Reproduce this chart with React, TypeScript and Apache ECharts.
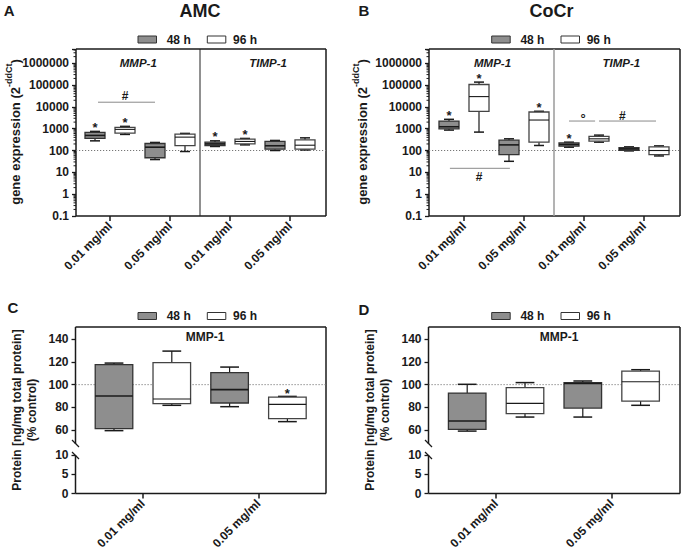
import React, { useEffect, useRef } from 'react';
import * as echarts from 'echarts';

const FONT = '"Liberation Sans", Arial, Helvetica, sans-serif';
const INK = '#1a1a1a';
const GRAY_FILL = '#8e8e8e';
const WHITE_FILL = '#ffffff';
const SIG_LINE = '#8a8a8a';

// ---------- categories / tick labels ----------
const geneCategories = ['0.01 mg/ml', '0.05 mg/ml', '0.01 mg/ml', '0.05 mg/ml'];
const proteinCategories = ['0.01 mg/ml', '0.05 mg/ml'];
const logTickLabels = ['0.1', '1', '10', '100', '1000', '10000', '100000', '1000000'];
const seriesNames = ['48 h', '96 h'];

// ---------- Panel A (AMC): box order = MMP-1 0.01 (48h,96h), MMP-1 0.05 (48h,96h), TIMP-1 0.01 (48h,96h), TIMP-1 0.05 (48h,96h)
const aMin = [277, 546, 38.5, 90, 153, 181, 100, 106];
const aQ1 = [357, 627, 46.6, 166, 170, 201, 115, 115];
const aMed = [490, 929, 142, 410, 201, 260, 165, 175];
const aQ3 = [676, 1148, 210, 564, 241, 332, 260, 308];
const aMax = [751, 1276, 234, 607, 277, 357, 289, 380];
const aStar = [1, 1, 0, 0, 1, 1, 0, 0];

// ---------- Panel B (CoCr)
const bMin = [862, 697, 32, 170, 142, 241, 96, 56.4];
const bQ1 = [989, 6270, 65.4, 241, 158, 268, 103, 65.4];
const bMed = [1224, 29500, 181, 2490, 189, 343, 118.6, 100];
const bQ3 = [2240, 105400, 298, 5820, 224, 442, 137, 147];
const bMax = [2683, 136000, 343, 6270, 241, 507, 147, 163];
const bStar = [1, 1, 0, 1, 1, 0, 0, 0];

// ---------- Panel C (AMC protein, MMP-1): 0.01 (48h,96h), 0.05 (48h,96h)
const cMin = [59.7, 81.9, 80.7, 67.6];
const cQ1 = [61.4, 83.3, 83.9, 70.2];
const cMed = [90, 87.4, 95.6, 82.7];
const cQ3 = [117.5, 119.3, 110.5, 89.1];
const cMax = [118.9, 129.4, 115.4, 89.7];
const cStar = [0, 0, 0, 1];

// ---------- Panel D (CoCr protein, MMP-1)
const dMin = [59.3, 71.6, 71.6, 81.9];
const dQ1 = [60.8, 74.6, 79.5, 85.6];
const dMed = [68.1, 83.6, 101, 102.6];
const dQ3 = [92.6, 97.4, 101.8, 111.9];
const dMax = [100.3, 101.8, 103.2, 113.1];
const dStar = [0, 0, 0, 0];

// ---------- significance bars (positions in box-index units, level in data units)
const aSigFrom = [0.1];
const aSigTo = [2.0];
const aSigLevel = [16300];
const aSigMark = ['#'];
const aSigMarkAt = [1.0];

const bSigFrom = [0.03, 4.0, 5.0];
const bSigTo = [2.03, 4.87, 6.9];
const bSigLevel = [15.3, 2240, 2240];
const bSigMark = ['#', '°', '#'];
const bSigMarkAt = [1.0, 4.47, 5.78];

const REFERENCE_LEVEL_GENE = 100;
const REFERENCE_LEVEL_PROTEIN = 100;

// ---------- layout (pixels) ----------
const LOG_MIN = -1;
const LOG_MAX = 6.65;
const LA = { l: 76, r: 326, t: 49, b: 216, gl: 80, gw: 240 };
const LB = { l: 429, r: 680, t: 49, b: 216, gl: 434, gw: 240 };
const LC = { l: 75.5, r: 326, t: 327, b: 493.5, gl: 85.1, gw: 231.2, gt: 339, gh: 91.3, lt: 455, lh: 38.5, breakTop: 444 };
const LD = { l: 428.5, r: 680, t: 327, b: 493.5, gl: 438.3, gw: 231.2, gt: 339, gh: 91.3, lt: 455, lh: 38.5, breakTop: 444 };

const lg10 = (v: number) => Math.log10(v);
const ident = (v: number) => v;

function rowsFor(min: number[], q1: number[], med: number[], q3: number[], max: number[], star: number[], parity: number, t: (v: number) => number) {
  return min
    .map((_, i) => [i, t(min[i]), t(q1[i]), t(med[i]), t(q3[i]), t(max[i]), star[i]])
    .filter((r) => r[0] % 2 === parity);
}

function makeRender(fill: string, ratio: number, starGap: number) {
  return (params: any, api: any) => {
    const i = api.value(0);
    const lo = api.coord([i, api.value(1)]);
    const q1 = api.coord([i, api.value(2)]);
    const md = api.coord([i, api.value(3)]);
    const q3 = api.coord([i, api.value(4)]);
    const hi = api.coord([i, api.value(5)]);
    const star = api.value(6);
    const band = api.size([1, 0])[0];
    const w = band * ratio;
    const cx = lo[0];
    const cap = w * 0.25;
    const ln = (x1: number, y1: number, x2: number, y2: number, lw = 1.2) => ({
      type: 'line',
      shape: { x1, y1, x2, y2 },
      style: { stroke: INK, lineWidth: lw },
    });
    const children: any[] = [
      ln(cx, hi[1], cx, q3[1]),
      ln(cx, q1[1], cx, lo[1]),
      ln(cx - cap, hi[1], cx + cap, hi[1], 1.5),
      ln(cx - cap, lo[1], cx + cap, lo[1], 1.5),
      {
        type: 'rect',
        shape: { x: cx - w / 2, y: q3[1], width: w, height: q1[1] - q3[1] },
        style: { fill, stroke: fill === WHITE_FILL ? '#444' : '#333', lineWidth: 1.3 },
      },
      ln(cx - w / 2, md[1], cx + w / 2, md[1], fill === WHITE_FILL ? 1.1 : 1.6),
    ];
    if (star) {
      children.push({
        type: 'text',
        x: cx,
        y: hi[1] - starGap,
        style: {
          text: '*',
          font: `bold 13px ${FONT}`,
          fill: INK,
          align: 'center',
          verticalAlign: 'middle',
        },
      });
    }
    return { type: 'group', children };
  };
}

const hiddenCatX = (gridIndex: number, n: number) => ({
  type: 'category',
  gridIndex,
  position: 'top',
  data: Array.from({ length: n }, (_, i) => String(i)),
  show: false,
});

const labelX = (gridIndex: number, cats: string[], offset = 0) => ({
  type: 'category',
  gridIndex,
  position: 'bottom',
  offset,
  data: cats,
  axisLine: { show: false },
  axisTick: { show: true, alignWithLabel: true, length: 5, lineStyle: { color: INK, width: 1.5 } },
  axisLabel: { rotate: 45, margin: 8, fontSize: 12, fontWeight: 'bold', fontFamily: FONT, color: INK, interval: 0 },
  splitLine: { show: false },
});

const logFormatter = (v: number) => {
  const r = Math.round(v);
  return Math.abs(v - r) < 1e-6 && r >= -1 && r <= 6 ? logTickLabels[r + 1] : '';
};

const yAx = (gridIndex: number, min: number, max: number, interval: number, offset: number, formatter?: any) => ({
  type: 'value',
  gridIndex,
  min,
  max,
  interval,
  offset,
  axisLine: { show: false },
  axisTick: { show: true, length: 4, lineStyle: { color: INK, width: 1.3 } },
  axisLabel: { margin: 7, fontSize: 12, fontWeight: 'bold', fontFamily: FONT, color: INK, formatter, showMinLabel: true, showMaxLabel: true },
  splitLine: { show: false },
});

function buildOption() {
  const grid = (left: number, top: number, width: number, height: number) => ({
    left, top, width, height, containLabel: false, outerBoundsMode: 'none',
  });
  const boxSeries = (name: string, fill: string, xi: number, yi: number, rows: any[], ratio: number, starGap: number) => ({
    type: 'custom',
    name,
    xAxisIndex: xi,
    yAxisIndex: yi,
    data: rows,
    encode: { x: 0, y: [1, 2, 3, 4, 5] },
    renderItem: makeRender(fill, ratio, starGap),
    itemStyle: { color: fill },
    silent: true,
  });
  return {
    animation: false,
    backgroundColor: '#ffffff',
    grid: [
      grid(LA.gl, LA.t, LA.gw, LA.b - LA.t),
      grid(LB.gl, LB.t, LB.gw, LB.b - LB.t),
      grid(LC.gl, LC.gt, LC.gw, LC.gh),
      grid(LD.gl, LD.gt, LD.gw, LD.gh),
      grid(LC.l, LC.lt, LC.r - LC.l, LC.lh),
      grid(LD.l, LD.lt, LD.r - LD.l, LD.lh),
    ],
    xAxis: [
      hiddenCatX(0, 8),
      labelX(0, geneCategories),
      hiddenCatX(1, 8),
      labelX(1, geneCategories),
      hiddenCatX(2, 4),
      labelX(2, proteinCategories, LC.b - (LC.gt + LC.gh)),
      hiddenCatX(3, 4),
      labelX(3, proteinCategories, LD.b - (LD.gt + LD.gh)),
      { type: 'value', gridIndex: 4, show: false, min: 0, max: 1 },
      { type: 'value', gridIndex: 5, show: false, min: 0, max: 1 },
    ],
    yAxis: [
      yAx(0, LOG_MIN, LOG_MAX, 1, LA.gl - LA.l, logFormatter),
      yAx(1, LOG_MIN, LOG_MAX, 1, LB.gl - LB.l, logFormatter),
      yAx(2, 60, 140, 20, LC.gl - LC.l),
      yAx(3, 60, 140, 20, LD.gl - LD.l),
      yAx(4, 0, 10, 5, 0),
      yAx(5, 0, 10, 5, 0),
    ],
    series: [
      boxSeries(seriesNames[0], GRAY_FILL, 0, 0, rowsFor(aMin, aQ1, aMed, aQ3, aMax, aStar, 0, lg10), 0.667, 4),
      boxSeries(seriesNames[1], WHITE_FILL, 0, 0, rowsFor(aMin, aQ1, aMed, aQ3, aMax, aStar, 1, lg10), 0.667, 4),
      boxSeries(seriesNames[0], GRAY_FILL, 2, 1, rowsFor(bMin, bQ1, bMed, bQ3, bMax, bStar, 0, lg10), 0.667, 4),
      boxSeries(seriesNames[1], WHITE_FILL, 2, 1, rowsFor(bMin, bQ1, bMed, bQ3, bMax, bStar, 1, lg10), 0.667, 4),
      boxSeries(seriesNames[0], GRAY_FILL, 4, 2, rowsFor(cMin, cQ1, cMed, cQ3, cMax, cStar, 0, ident), 0.65, 2.5),
      boxSeries(seriesNames[1], WHITE_FILL, 4, 2, rowsFor(cMin, cQ1, cMed, cQ3, cMax, cStar, 1, ident), 0.65, 2.5),
      boxSeries(seriesNames[0], GRAY_FILL, 6, 3, rowsFor(dMin, dQ1, dMed, dQ3, dMax, dStar, 0, ident), 0.65, 2.5),
      boxSeries(seriesNames[1], WHITE_FILL, 6, 3, rowsFor(dMin, dQ1, dMed, dQ3, dMax, dStar, 1, ident), 0.65, 2.5),
    ],
  };
}

function buildGraphics(chart: any) {
  const g: any[] = [];
  const px = (axis: 'x' | 'y', idx: number, v: number): number =>
    chart.convertToPixel(axis === 'x' ? { xAxisIndex: idx } : { yAxisIndex: idx }, v) as number;
  const line = (x1: number, y1: number, x2: number, y2: number, stroke = INK, lineWidth = 1.5, lineDash?: number[]) =>
    g.push({ type: 'line', silent: true, shape: { x1, y1, x2, y2 }, style: { stroke, lineWidth, lineDash, fill: null } });
  const text = (x: number, y: number, t: string, font: string, extra: any = {}) =>
    g.push({
      type: 'text', x, y, silent: true,
      style: { text: t, font, fill: INK, align: 'center', verticalAlign: 'middle', ...extra },
    });
  const rect = (x: number, y: number, w: number, h: number, fill: string) =>
    g.push({ type: 'rect', silent: true, shape: { x, y, width: w, height: h }, style: { fill, stroke: '#333', lineWidth: 1 } });

  // frames of gene panels
  for (const F of [LA, LB]) {
    line(F.l, F.t, F.r, F.t);
    line(F.r, F.t, F.r, F.b);
    line(F.l, F.b, F.r, F.b);
    line(F.l, F.t, F.l, F.b);
  }
  // frames of protein panels (broken y axis)
  for (const F of [LC, LD]) {
    line(F.l, F.t, F.r, F.t);
    line(F.r, F.t, F.r, F.b);
    line(F.l, F.b, F.r, F.b);
    line(F.l, F.t, F.l, F.breakTop);
    line(F.l, F.lt, F.l, F.b);
    line(F.l - 3.5, F.breakTop - 4, F.l + 3.5, F.breakTop + 3, INK, 1.3);
    line(F.l - 3.5, F.lt - 3, F.l + 3.5, F.lt + 4, INK, 1.3);
  }

  // log minor ticks
  const logPanels = [{ F: LA, yi: 0 }, { F: LB, yi: 1 }];
  for (const { F, yi } of logPanels) {
    for (let d = LOG_MIN; d <= 6; d++) {
      for (let m = 2; m <= 9; m++) {
        const v = d + Math.log10(m);
        if (v > LOG_MAX) continue;
        const y = px('y', yi, v);
        line(F.l - 2.5, y, F.l, y, INK, 1);
      }
    }
  }

  // gene separators
  const sepA = (px('x', 0, 3) + px('x', 0, 4)) / 2;
  line(sepA, LA.t, sepA, LA.b, '#222', 1);
  const sepB = (px('x', 2, 3) + px('x', 2, 4)) / 2;
  line(sepB, LB.t, sepB, LB.b, '#9a9a9a', 1.5);

  // dotted reference lines
  const yA = px('y', 0, lg10(REFERENCE_LEVEL_GENE));
  line(LA.l, yA, LA.r, yA, '#777', 1, [1.2, 1.8]);
  const yB = px('y', 1, lg10(REFERENCE_LEVEL_GENE));
  line(LB.l, yB, LB.r, yB, '#777', 1, [1.2, 1.8]);
  const yC = px('y', 2, REFERENCE_LEVEL_PROTEIN);
  line(LC.l, yC, LC.r, yC, '#777', 1, [1.2, 1.8]);
  const yD = px('y', 3, REFERENCE_LEVEL_PROTEIN);
  line(LD.l, yD, LD.r, yD, '#777', 1, [1.2, 1.8]);

  // significance bars
  const sig = (xi: number, yi: number, from: number[], to: number[], level: number[], mark: string[], markAt: number[], markDy: number[]) => {
    const x0 = px('x', xi, 0);
    const band = px('x', xi, 1) - x0;
    from.forEach((f, k) => {
      const y = px('y', yi, lg10(level[k]));
      line(x0 + f * band, y, x0 + to[k] * band, y, SIG_LINE, 1);
      const isDeg = mark[k] === '°';
      text(x0 + markAt[k] * band, y + markDy[k] + (isDeg ? 3 : 0), mark[k], `bold ${isDeg ? 13 : 12}px ${FONT}`);
    });
  };
  sig(0, 0, aSigFrom, aSigTo, aSigLevel, aSigMark, aSigMarkAt, [-6.6]);
  sig(2, 1, bSigFrom, bSigTo, bSigLevel, bSigMark, bSigMarkAt, [8.7, -5.3, -5.3]);

  // titles and panel letters
  text(200, 11, 'AMC', `bold 18px ${FONT}`);
  text(551.5, 11, 'CoCr', `bold 18px ${FONT}`);
  text(9.2, 10.5, 'A', `bold 15px ${FONT}`);
  text(364, 10.5, 'B', `bold 15px ${FONT}`);
  text(12.8, 307.5, 'C', `bold 15px ${FONT}`);
  text(364, 309, 'D', `bold 15px ${FONT}`);

  // gene labels inside panels
  text(138.3, 63.3, 'MMP-1', `italic bold 11.5px ${FONT}`);
  text(268, 63.3, 'TIMP-1', `italic bold 11.5px ${FONT}`);
  text(492.5, 63.3, 'MMP-1', `italic bold 11.5px ${FONT}`);
  text(621.3, 63.3, 'TIMP-1', `italic bold 11.5px ${FONT}`);
  text(205, 337.3, 'MMP-1', `bold 12px ${FONT}`);
  text(559, 337.3, 'MMP-1', `bold 12px ${FONT}`);

  // legends
  const legend = (x: number, yc: number) => {
    rect(x, yc - 3.5, 18.5, 7, GRAY_FILL);
    text(x + 28.7, yc, seriesNames[0], `bold 12px ${FONT}`, { align: 'left' });
    rect(x + 69.3, yc - 3.5, 18.5, 7, WHITE_FILL);
    text(x + 95, yc, seriesNames[1], `bold 12px ${FONT}`, { align: 'left' });
  };
  legend(138, 39.5);
  legend(491.7, 39.5);
  legend(138, 316);
  legend(491.7, 316);

  // y-axis titles
  const geneTitle = (x: number, y: number) =>
    g.push({
      type: 'text', x, y, rotation: Math.PI / 2, silent: true,
      style: {
        text: '{b|gene expression (2}{s|-ddCt}{b|)}',
        align: 'center', verticalAlign: 'middle', fill: INK,
        rich: {
          b: { fontSize: 13, fontWeight: 'bold', fontFamily: FONT, fill: INK, verticalAlign: 'bottom', lineHeight: 17 },
          s: { fontSize: 9, fontWeight: 'bold', fontFamily: FONT, fill: INK, verticalAlign: 'top', lineHeight: 9 },
        },
      },
    });
  geneTitle(13, 132);
  geneTitle(360, 132);
  const protTitle = (x: number, y: number) =>
    g.push({
      type: 'text', x, y, rotation: Math.PI / 2, silent: true,
      style: {
        text: 'Protein [ng/mg total protein]\n(% control)',
        font: `bold 12px ${FONT}`, lineHeight: 15,
        align: 'center', verticalAlign: 'middle', fill: INK,
      },
    });
  protTitle(24.5, 410);
  protTitle(377.5, 410);

  return g;
}

export default function App() {
  const ref = useRef<HTMLDivElement>(null);
  useEffect(() => {
    document.body.style.margin = '0';
    const chart = echarts.init(ref.current as HTMLDivElement, null, { renderer: 'svg' });
    chart.setOption(buildOption() as any);
    chart.setOption({ graphic: buildGraphics(chart) } as any);
    return () => chart.dispose();
  }, []);
  return <div ref={ref} style={{ width: 682, height: 556 }} />;
}
